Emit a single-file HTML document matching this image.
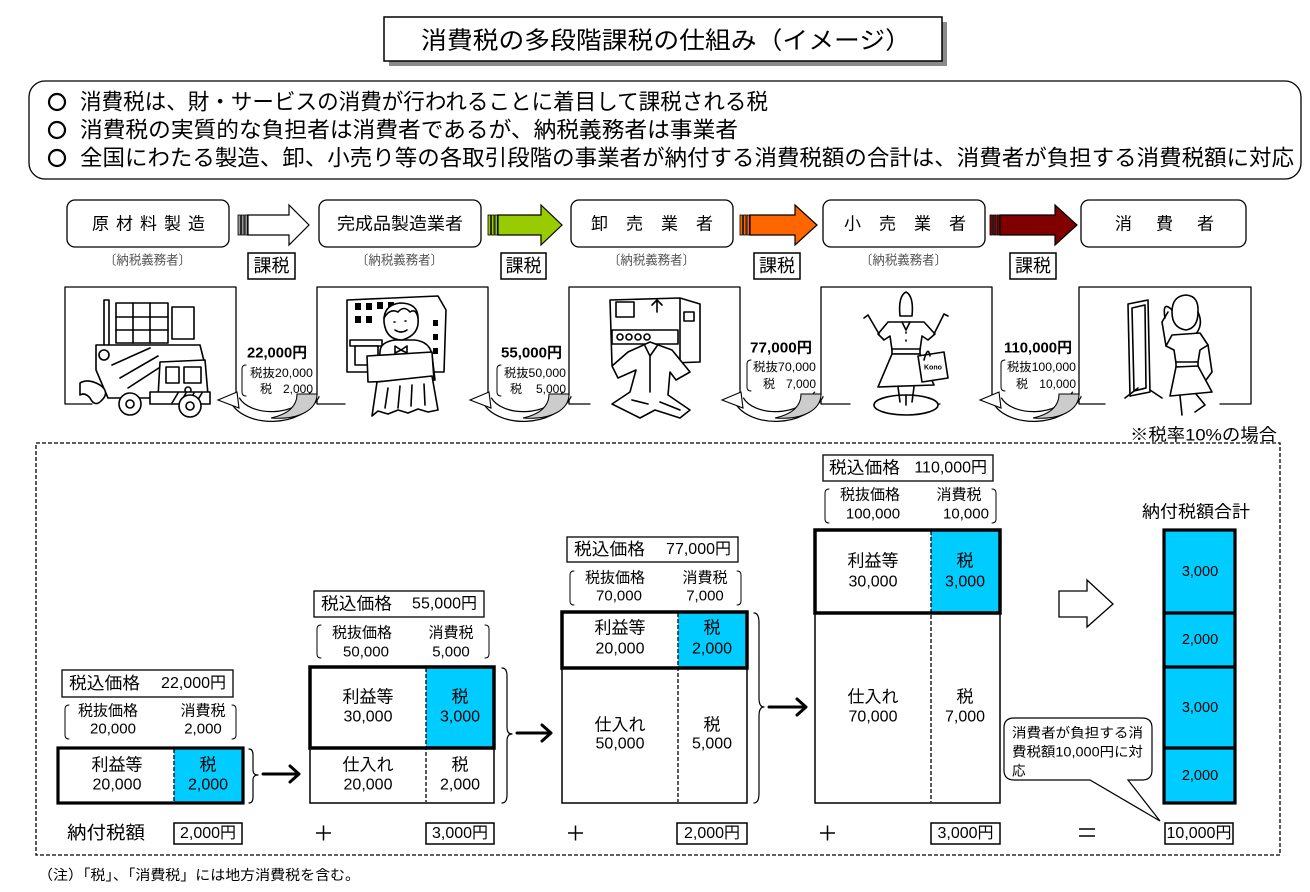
<!DOCTYPE html>
<html><head><meta charset="utf-8">
<style>
html,body{margin:0;padding:0;background:#fff;}
svg{display:block;}
text{font-family:"Liberation Sans","Noto Sans CJK JP",sans-serif;fill:#000;dominant-baseline:central;}
.c{text-anchor:middle;}
.ln{fill:none;stroke:#000;stroke-width:1.6;stroke-linejoin:round;stroke-linecap:round;}
.lw{fill:#fff;stroke:#000;stroke-width:1.6;stroke-linejoin:round;}
</style></head><body>
<svg width="1310" height="892" viewBox="0 0 1310 892" xmlns="http://www.w3.org/2000/svg">
<defs>
<g id="ca">
<path d="M-82,6 C-70,28 -18,30 -2,0" fill="none" stroke="#000" stroke-width="11"/>
<path d="M-82,6 C-70,28 -18,30 -2,0" fill="none" stroke="#fff" stroke-width="8.5"/>
<path d="M-20,0 L0,0 C0,16 -18,26 -46,24 C-28,20 -20,12 -20,0 Z" fill="#ccc" stroke="#000" stroke-width="1"/>
<polygon points="-99,6 -80,-2 -78,14" fill="#fff" stroke="#000" stroke-width="1.1"/>
</g>
</defs>
<!-- Title -->
<rect x="389" y="22" width="558" height="44" fill="#8a8a8a"/>
<rect x="384" y="17" width="558" height="44" fill="#fff" stroke="#000" stroke-width="1.5"/>
<text x="421" y="41" font-size="24" textLength="490" lengthAdjust="spacingAndGlyphs">消費税の多段階課税の仕組み（イメージ）</text>

<!-- Info box -->
<rect x="29" y="81" width="1272" height="98" rx="16" fill="#fff" stroke="#000" stroke-width="1.3"/>
<circle cx="57" cy="102" r="8" fill="none" stroke="#000" stroke-width="2.2"/>
<circle cx="57" cy="130" r="8" fill="none" stroke="#000" stroke-width="2.2"/>
<circle cx="57" cy="158" r="8" fill="none" stroke="#000" stroke-width="2.2"/>
<text x="80" y="102" font-size="22" textLength="688" lengthAdjust="spacingAndGlyphs">消費税は、財・サービスの消費が行われることに着目して課税される税</text>
<text x="80" y="130" font-size="22" textLength="658" lengthAdjust="spacingAndGlyphs">消費税の実質的な負担者は消費者であるが、納税義務者は事業者</text>
<text x="80" y="158" font-size="22" textLength="1214" lengthAdjust="spacingAndGlyphs">全国にわたる製造、卸、小売り等の各取引段階の事業者が納付する消費税額の合計は、消費者が負担する消費税額に対応</text>

<!-- Flow boxes -->
<g fill="#fff" stroke="#000" stroke-width="1.3">
<rect x="67" y="200" width="162" height="47" rx="8"/>
<rect x="319" y="200" width="162" height="47" rx="8"/>
<rect x="571" y="200" width="162" height="47" rx="8"/>
<rect x="823" y="200" width="162" height="47" rx="8"/>
<rect x="1081" y="200" width="165" height="47" rx="8"/>
</g>
<text x="92" y="224" font-size="17" textLength="113" lengthAdjust="spacing">原材料製造</text>
<text x="337" y="224" font-size="17" textLength="126" lengthAdjust="spacingAndGlyphs">完成品製造業者</text>
<text x="591" y="224" font-size="17" textLength="122" lengthAdjust="spacing">卸売業者</text>
<text x="844" y="224" font-size="17" textLength="122" lengthAdjust="spacing">小売業者</text>
<text x="1115" y="224" font-size="17" textLength="99" lengthAdjust="spacing">消費者</text>

<g font-size="13">
<text x="104" y="260" style="fill:#555" textLength="87" lengthAdjust="spacingAndGlyphs">〔納税義務者〕</text>
<text x="356" y="260" style="fill:#555" textLength="87" lengthAdjust="spacingAndGlyphs">〔納税義務者〕</text>
<text x="608" y="260" style="fill:#555" textLength="87" lengthAdjust="spacingAndGlyphs">〔納税義務者〕</text>
<text x="860" y="260" style="fill:#555" textLength="87" lengthAdjust="spacingAndGlyphs">〔納税義務者〕</text>
</g>

<!-- Flow arrows -->
<g stroke="#000" stroke-width="0.8">
<rect x="238" y="215" width="2.5" height="20" fill="#999"/><rect x="241.5" y="215" width="2.5" height="20" fill="#999"/><rect x="245" y="215" width="2.5" height="20" fill="#999"/>
<polygon points="248,215 289,215 289,205 309,225 289,245 289,235 248,235" fill="#fff" stroke-width="1.2"/>
<rect x="488" y="215" width="2.5" height="20" fill="#99cc00"/><rect x="491.5" y="215" width="2.5" height="20" fill="#99cc00"/><rect x="495" y="215" width="2.5" height="20" fill="#99cc00"/>
<polygon points="498,215 541,215 541,205 562,225 541,245 541,235 498,235" fill="#99cc00" stroke-width="1.2"/>
<rect x="740" y="215" width="2.5" height="20" fill="#ff6600"/><rect x="743.5" y="215" width="2.5" height="20" fill="#ff6600"/><rect x="747" y="215" width="2.5" height="20" fill="#ff6600"/>
<polygon points="750,215 795,215 795,205 817,225 795,245 795,235 750,235" fill="#ff6600" stroke-width="1.2"/>
<rect x="990" y="215" width="2.5" height="20" fill="#800000"/><rect x="993.5" y="215" width="2.5" height="20" fill="#800000"/><rect x="997" y="215" width="2.5" height="20" fill="#800000"/>
<polygon points="1000,215 1055,215 1055,205 1077,225 1055,245 1055,235 1000,235" fill="#800000" stroke-width="1.2"/>
</g>

<!-- 課税 boxes -->
<g fill="#fff" stroke="#000" stroke-width="1.5">
<rect x="248" y="253" width="47" height="26"/>
<rect x="501" y="253" width="45" height="26"/>
<rect x="754" y="253" width="46" height="26"/>
<rect x="1010" y="253" width="46" height="26"/>
</g>
<text class="c" x="271.5" y="266" font-size="18">課税</text>
<text class="c" x="523.5" y="266" font-size="18">課税</text>
<text class="c" x="777" y="266" font-size="18">課税</text>
<text class="c" x="1033" y="266" font-size="18">課税</text>

<!-- Frames -->
<g class="ln" style="stroke-width:1.3">
<path d="M65,404 L65,287 L236,287 L236,396 M65,404 L92,404"/>
<path d="M317,404 L317,287 L488,287 L488,396 M317,404 L345,404"/>
<path d="M569,404 L569,287 L740,287 L740,396 M569,404 L590,404"/>
<path d="M821,404 L821,287 L992,287 L992,396 M821,404 L850,404 M918,404 L940,404"/>
<path d="M1079,404 L1079,287 L1251,287 L1251,404 M1079,404 L1105,404 M1220,404 L1251,404"/>
</g>

<!-- Illustration 1: truck -->
<g>
<rect x="104" y="300" width="5" height="48" class="lw"/>
<rect x="116" y="303" width="52" height="40" class="lw"/>
<path class="ln" d="M133,303 L133,343 M150,303 L150,343 M116,317 L168,317 M116,330 L168,330"/>
<rect x="172" y="307" width="22" height="32" class="lw"/>
<path class="lw" d="M96,345 L200,345 L205,365 L175,365 L175,398 L108,398 L96,370 Z"/>
<path class="ln" d="M112,365 L150,348 M120,378 L158,356 M128,388 L168,362"/>
<circle cx="104" cy="355" r="5" class="lw"/>
<path class="lw" d="M160,362 L205,360 L208,395 L158,397 Z"/>
<rect x="166" y="367" width="13" height="16" class="lw"/>
<rect x="184" y="367" width="17" height="16" class="lw"/>
<circle cx="188" cy="390" r="3" class="lw"/>
<path class="lw" d="M150,392 L210,392 L210,404 L150,404 Z"/>
<path class="ln" d="M178,393 L172,403 M186,393 L180,403 M194,393 L188,403 M202,393 L196,403"/>
<path class="lw" d="M80,383 Q88,378 100,385 Q110,392 102,400 Q95,408 90,398 Q85,392 80,395 Z"/>
<circle cx="130" cy="404" r="11" class="lw"/><circle cx="130" cy="404" r="4" class="lw"/>
<circle cx="190" cy="406" r="11" class="lw"/><circle cx="190" cy="406" r="4" class="lw"/>
</g>

<!-- Illustration 2: worker -->
<g>
<path class="lw" d="M347,300 L438,296 L446,310 L444,372 L347,372 Z"/>
<g fill="#000">
<rect x="355" y="303" width="6" height="7"/><rect x="366" y="303" width="6" height="7"/><rect x="377" y="302" width="6" height="7"/><rect x="388" y="302" width="6" height="7"/>
<rect x="355" y="316" width="6" height="7"/><rect x="366" y="316" width="6" height="7"/>
<rect x="433" y="320" width="5" height="6"/><rect x="433" y="334" width="5" height="6"/><rect x="433" y="348" width="5" height="6"/>
</g>
<rect x="350" y="340" width="32" height="6" class="lw"/>
<path class="lw" d="M355,346 L378,346 L378,365 L355,365 Z"/>
<path class="lw" d="M380,352 Q380,342 395,340 L415,340 Q430,342 432,355 L435,380 L378,382 Z"/>
<path class="lw" d="M384,322 Q383,305 400,303 Q418,303 418,318 Q420,335 402,340 Q386,340 384,322 Z"/>
<path class="ln" d="M384,318 Q390,308 398,312 Q404,305 410,312 Q416,308 418,318"/>
<path class="ln" d="M395,330 Q401,334 407,330 M394,322 L395,322 M405,321 L406,321"/>
<path class="lw" d="M395,346 L401,350 L407,346 L407,353 L401,350 L395,353 Z"/>
<path class="lw" d="M367,356 L432,352 L434,380 L368,382 Z"/>
<path class="lw" d="M377,382 L432,376 L438,410 L428,412 L418,409 L408,413 L398,410 L388,414 L378,411 L372,416 Z"/>
<path class="ln" d="M388,388 L385,408 M400,386 L398,408 M412,385 L411,406 M424,384 L425,405"/>
</g>

<!-- Illustration 3: shop & shirt -->
<g>
<path class="lw" d="M610,300 L680,298 L700,304 L700,362 L612,365 Z"/>
<path class="ln" d="M680,298 L680,362"/>
<rect x="616" y="302" width="18" height="15" class="lw"/>
<path class="ln" d="M652,305 L657,300 L662,305 M657,300 L657,312"/>
<rect x="612" y="330" width="66" height="14" class="lw"/>
<circle cx="620" cy="337" r="3" class="lw"/><circle cx="629" cy="337" r="3" class="lw"/><circle cx="638" cy="337" r="3" class="lw"/><circle cx="647" cy="337" r="3" class="lw"/>
<rect x="684" y="312" width="10" height="9" class="lw"/>
<path class="lw" d="M628,352 L650,342 L672,350 L690,372 L676,380 L670,372 L668,395 L690,410 L680,418 L655,410 L640,418 L612,404 L630,392 L636,370 L618,378 L612,366 Z"/>
<path class="ln" d="M645,346 L650,356 L657,346 M650,356 L650,392 M632,400 L648,404 M660,402 L680,410"/>
</g>

<!-- Illustration 4: mannequin -->
<g>
<ellipse cx="906" cy="405" rx="32" ry="10" class="lw"/>
<path class="ln" d="M906,395 L906,405"/>
<path class="lw" d="M900,316 Q898,296 906,292 Q914,296 912,316 Z"/>
<path class="lw" d="M888,322 L924,322 L935,334 L928,340 L922,336 L920,350 L892,350 L890,336 L884,340 L878,334 Z"/>
<path class="ln" d="M879,334 L868,315 L864,318 M934,334 L944,314 L948,316"/>
<path class="ln" d="M902,322 L906,330 L910,322 M906,332 L906,333 M906,340 L906,341"/>
<rect x="892" y="349" width="28" height="5" class="lw"/>
<path class="lw" d="M892,354 L920,354 L934,385 L878,387 Z"/>
<path class="ln" d="M898,387 L900,402 M914,387 L912,402"/>
<path class="lw" d="M918,356 L944,352 L948,378 L922,382 Z"/>
<path class="ln" d="M924,360 Q928,345 930,356"/>
<text x="924" y="368" font-size="7" style="font-weight:bold">Kono</text>
</g>

<!-- Illustration 5: woman & mirror -->
<g>
<path class="lw" d="M1128,304 L1148,300 L1150,392 L1130,396 Z"/>
<path class="ln" d="M1132,308 L1145,305 L1146,388 L1134,391 Z M1125,398 L1138,388 M1150,390 L1162,398"/>
<path class="lw" d="M1172,312 Q1172,296 1186,295 Q1199,296 1198,312 Q1198,328 1186,330 Q1172,328 1172,312 Z"/>
<path class="ln" d="M1172,310 Q1162,300 1165,318 M1198,312 Q1204,325 1195,335"/>
<path class="lw" d="M1172,335 L1200,333 L1208,345 L1200,350 L1198,362 L1176,363 L1174,350 L1166,346 Z"/>
<path class="ln" d="M1166,346 L1162,322 L1168,312 M1208,345 L1212,372 L1206,380"/>
<rect x="1176" y="362" width="22" height="5" class="lw"/>
<path class="lw" d="M1176,367 L1198,366 L1212,392 L1170,396 Z"/>
<path class="ln" d="M1180,396 L1182,415 M1196,394 L1205,405 L1195,412"/>
</g>

<!-- Curved arrows -->
<use href="#ca" transform="translate(317,394)"/>
<use href="#ca" transform="translate(569,394)"/>
<use href="#ca" transform="translate(821,394)"/>
<use href="#ca" transform="translate(1079,394)"/>

<!-- price labels -->
<g class="ln" style="stroke-width:1">
<path d="M246,365 Q242,365 242,369 L242,392 Q242,396 246,396"/>
<path d="M501,365 Q497,365 497,369 L497,392 Q497,396 501,396"/>
<path d="M751,360 Q747,360 747,364 L747,387 Q747,391 751,391"/>
<path d="M1005,360 Q1001,360 1001,364 L1001,387 Q1001,391 1005,391"/>
</g>
<text x="247" y="353" font-size="15" font-weight="bold" textLength="60" lengthAdjust="spacingAndGlyphs">22,000円</text>
<text x="250" y="373" font-size="12" textLength="63" lengthAdjust="spacingAndGlyphs">税抜20,000</text>
<text x="260" y="389" font-size="12">税</text><text x="313" y="389" font-size="12" style="text-anchor:end">2,000</text>
<text x="501" y="353" font-size="15" font-weight="bold" textLength="61" lengthAdjust="spacingAndGlyphs">55,000円</text>
<text x="504" y="373" font-size="12" textLength="62" lengthAdjust="spacingAndGlyphs">税抜50,000</text>
<text x="510" y="389" font-size="12">税</text><text x="566" y="389" font-size="12" style="text-anchor:end">5,000</text>
<text x="750" y="348" font-size="15" font-weight="bold" textLength="62" lengthAdjust="spacingAndGlyphs">77,000円</text>
<text x="753" y="367" font-size="12" textLength="63" lengthAdjust="spacingAndGlyphs">税抜70,000</text>
<text x="763" y="384" font-size="12">税</text><text x="816" y="384" font-size="12" style="text-anchor:end">7,000</text>
<text x="1004" y="348" font-size="15" font-weight="bold" textLength="68" lengthAdjust="spacingAndGlyphs">110,000円</text>
<text x="1007" y="367" font-size="12" textLength="69" lengthAdjust="spacingAndGlyphs">税抜100,000</text>
<text x="1016" y="384" font-size="12">税</text><text x="1076" y="384" font-size="12" style="text-anchor:end">10,000</text>

<text x="1130" y="435" font-size="17" textLength="147" lengthAdjust="spacingAndGlyphs">※税率10%の場合</text>

<!-- Dashed box -->
<rect x="36" y="443" width="1244" height="412" fill="none" stroke="#000" stroke-width="1.3" stroke-dasharray="4,2"/>

<!-- Block 1 -->
<rect x="62" y="670" width="171" height="27" fill="#fff" stroke="#000" stroke-width="1.3"/>
<text x="69" y="683.5" font-size="17" textLength="71" lengthAdjust="spacingAndGlyphs">税込価格</text>
<text x="226" y="683.5" font-size="16" style="text-anchor:end">22,000円</text>
<path class="ln" style="stroke-width:1" d="M69,705 Q65,705 65,709 L65,735 Q65,739 69,739 M232,705 Q236,705 236,709 L236,735 Q236,739 232,739"/>
<text class="c" x="108" y="711" font-size="15">税抜価格</text>
<text class="c" x="113" y="729" font-size="15">20,000</text>
<text class="c" x="203" y="711" font-size="15">消費税</text>
<text class="c" x="203" y="729" font-size="15">2,000</text>
<rect x="174" y="748" width="69" height="55" fill="#00ccff"/>
<rect x="58" y="748" width="185" height="55" fill="none" stroke="#000" stroke-width="3.2"/>
<line x1="174" y1="749" x2="174" y2="802" stroke="#000" stroke-width="1.3" stroke-dasharray="4,2"/>
<text class="c" x="117" y="765" font-size="17">利益等</text>
<text class="c" x="117" y="785" font-size="16">20,000</text>
<text class="c" x="208" y="765" font-size="17">税</text>
<text class="c" x="208" y="785" font-size="16">2,000</text>
<path class="ln" style="stroke-width:1.2" d="M249,749 Q253,749 253,755 L253,770 Q253,775 258,775 Q253,775 253,780 L253,797 Q253,803 249,803"/>
<path class="ln" style="stroke-width:3" d="M263,774 L298,774 M290,766 L299,774 L290,782"/>

<!-- Block 2 -->
<rect x="314" y="591" width="170" height="26" fill="#fff" stroke="#000" stroke-width="1.3"/>
<text x="321" y="604" font-size="17" textLength="71" lengthAdjust="spacingAndGlyphs">税込価格</text>
<text x="477" y="604" font-size="16" style="text-anchor:end">55,000円</text>
<path class="ln" style="stroke-width:1" d="M321,625 Q317,625 317,629 L317,654 Q317,658 321,658 M485,625 Q489,625 489,629 L489,654 Q489,658 485,658"/>
<text class="c" x="362" y="633" font-size="15">税抜価格</text>
<text class="c" x="366" y="652" font-size="15">50,000</text>
<text class="c" x="451" y="633" font-size="15">消費税</text>
<text class="c" x="451" y="652" font-size="15">5,000</text>
<rect x="426" y="667" width="68" height="81" fill="#00ccff"/>
<rect x="310" y="667" width="184" height="136" fill="none" stroke="#000" stroke-width="1.5"/>
<rect x="310" y="667" width="184" height="81" fill="none" stroke="#000" stroke-width="3.5"/>
<line x1="426" y1="668" x2="426" y2="802" stroke="#000" stroke-width="1.3" stroke-dasharray="4,2"/>
<text class="c" x="368" y="697" font-size="17">利益等</text>
<text class="c" x="368" y="717" font-size="16">30,000</text>
<text class="c" x="460" y="697" font-size="17">税</text>
<text class="c" x="460" y="717" font-size="16">3,000</text>
<text class="c" x="368" y="765" font-size="17">仕入れ</text>
<text class="c" x="368" y="785" font-size="16">20,000</text>
<text class="c" x="460" y="765" font-size="17">税</text>
<text class="c" x="460" y="785" font-size="16">2,000</text>
<path class="ln" style="stroke-width:1.2" d="M502,668 Q507,668 507,676 L507,727 Q507,734 512,734 Q507,734 507,741 L507,795 Q507,803 502,803"/>
<path class="ln" style="stroke-width:3" d="M517,733 L550,733 M542,725 L551,733 L542,741"/>

<!-- Block 3 -->
<rect x="567" y="537" width="171" height="25" fill="#fff" stroke="#000" stroke-width="1.3"/>
<text x="574" y="549.5" font-size="17" textLength="71" lengthAdjust="spacingAndGlyphs">税込価格</text>
<text x="731" y="549.5" font-size="16" style="text-anchor:end">77,000円</text>
<path class="ln" style="stroke-width:1" d="M574,571 Q570,571 570,575 L570,601 Q570,605 574,605 M737,571 Q741,571 741,575 L741,601 Q741,605 737,605"/>
<text class="c" x="615" y="578" font-size="15">税抜価格</text>
<text class="c" x="619" y="596" font-size="15">70,000</text>
<text class="c" x="705" y="578" font-size="15">消費税</text>
<text class="c" x="705" y="596" font-size="15">7,000</text>
<rect x="678" y="612" width="69" height="56" fill="#00ccff"/>
<rect x="562" y="612" width="185" height="191" fill="none" stroke="#000" stroke-width="1.5"/>
<rect x="562" y="612" width="185" height="56" fill="none" stroke="#000" stroke-width="3.5"/>
<line x1="678" y1="613" x2="678" y2="802" stroke="#000" stroke-width="1.3" stroke-dasharray="4,2"/>
<text class="c" x="620" y="628" font-size="17">利益等</text>
<text class="c" x="620" y="649" font-size="16">20,000</text>
<text class="c" x="712" y="628" font-size="17">税</text>
<text class="c" x="712" y="649" font-size="16">2,000</text>
<text class="c" x="620" y="725" font-size="17">仕入れ</text>
<text class="c" x="620" y="744" font-size="16">50,000</text>
<text class="c" x="712" y="725" font-size="17">税</text>
<text class="c" x="712" y="744" font-size="16">5,000</text>
<path class="ln" style="stroke-width:1.2" d="M754,613 Q759,613 759,623 L759,698 Q759,707 764,707 Q759,707 759,716 L759,793 Q759,803 754,803"/>
<path class="ln" style="stroke-width:3" d="M769,707 L805,707 M797,699 L806,707 L797,715"/>

<!-- Block 4 -->
<rect x="823" y="455" width="170" height="26" fill="#fff" stroke="#000" stroke-width="1.3"/>
<text x="829" y="468" font-size="17" textLength="71" lengthAdjust="spacingAndGlyphs">税込価格</text>
<text x="987" y="468" font-size="16" style="text-anchor:end">110,000円</text>
<path class="ln" style="stroke-width:1" d="M829,489 Q825,489 825,493 L825,519 Q825,523 829,523 M992,489 Q996,489 996,493 L996,519 Q996,523 992,523"/>
<text class="c" x="870" y="495" font-size="15">税抜価格</text>
<text class="c" x="873" y="514" font-size="15">100,000</text>
<text class="c" x="959" y="495" font-size="15">消費税</text>
<text class="c" x="966" y="514" font-size="15">10,000</text>
<rect x="931" y="530" width="69" height="83" fill="#00ccff"/>
<rect x="815" y="530" width="185" height="273" fill="none" stroke="#000" stroke-width="1.5"/>
<rect x="815" y="530" width="185" height="83" fill="none" stroke="#000" stroke-width="3.5"/>
<line x1="931" y1="531" x2="931" y2="802" stroke="#000" stroke-width="1.3" stroke-dasharray="4,2"/>
<text class="c" x="873" y="561" font-size="17">利益等</text>
<text class="c" x="873" y="582" font-size="16">30,000</text>
<text class="c" x="965" y="561" font-size="17">税</text>
<text class="c" x="965" y="582" font-size="16">3,000</text>
<text class="c" x="873" y="697" font-size="17">仕入れ</text>
<text class="c" x="873" y="717" font-size="16">70,000</text>
<text class="c" x="965" y="697" font-size="17">税</text>
<text class="c" x="965" y="717" font-size="16">7,000</text>

<!-- hollow arrow -->
<polygon points="1059,591 1087,591 1087,580 1113,604 1087,627 1087,617 1059,617" fill="#fff" stroke="#000" stroke-width="1.3"/>

<!-- Total column -->
<text x="1142" y="512" font-size="17" textLength="108" lengthAdjust="spacingAndGlyphs">納付税額合計</text>
<rect x="1164" y="530" width="71" height="273" fill="#00ccff" stroke="#000" stroke-width="3.2"/>
<path d="M1164,613 L1235,613 M1164,667 L1235,667 M1164,748 L1235,748" stroke="#000" stroke-width="3.2"/>
<text class="c" x="1200" y="572" font-size="14.5">3,000</text>
<text class="c" x="1200" y="640" font-size="14.5">2,000</text>
<text class="c" x="1200" y="708" font-size="14.5">3,000</text>
<text class="c" x="1200" y="776" font-size="14.5">2,000</text>

<!-- callout -->
<path d="M1014,718 L1142,718 Q1152,718 1152,728 L1152,770 Q1152,780 1142,780 L1128,780 L1160,821 L1090,780 L1014,780 Q1004,780 1004,770 L1004,728 Q1004,718 1014,718 Z" fill="#fff" stroke="#000" stroke-width="1.2"/>
<text x="1012" y="733" font-size="13.5" textLength="131" lengthAdjust="spacingAndGlyphs">消費者が負担する消</text>
<text x="1012" y="752" font-size="13.5" textLength="131" lengthAdjust="spacingAndGlyphs">費税額10,000円に対</text>
<text x="1012" y="771" font-size="13.5">応</text>

<!-- bottom row -->
<text x="67" y="833" font-size="18" textLength="78" lengthAdjust="spacingAndGlyphs">納付税額</text>
<g fill="#fff" stroke="#000" stroke-width="1.5">
<rect x="174" y="823" width="68" height="21"/>
<rect x="426" y="823" width="68" height="21"/>
<rect x="677" y="823" width="70" height="21"/>
<rect x="931" y="823" width="69" height="21"/>
<rect x="1165" y="823" width="68" height="21"/>
</g>
<text class="c" x="208" y="833.5" font-size="16">2,000円</text>
<text class="c" x="460" y="833.5" font-size="16">3,000円</text>
<text class="c" x="712" y="833.5" font-size="16">2,000円</text>
<text class="c" x="965.5" y="833.5" font-size="16">3,000円</text>
<text class="c" x="1199" y="833.5" font-size="16">10,000円</text>
<path d="M316,833 L331,833 M323.5,825.5 L323.5,840.5 M568,833 L583,833 M575.5,825.5 L575.5,840.5 M820,833 L835,833 M827.5,825.5 L827.5,840.5" stroke="#000" stroke-width="1.5"/>
<path d="M1079,829 L1095,829 M1079,836 L1095,836" stroke="#000" stroke-width="1.5"/>

<text x="38" y="875" font-size="14" textLength="322" lengthAdjust="spacingAndGlyphs">（注）「税」、「消費税」には地方消費税を含む。</text>
</svg>
</body></html>
